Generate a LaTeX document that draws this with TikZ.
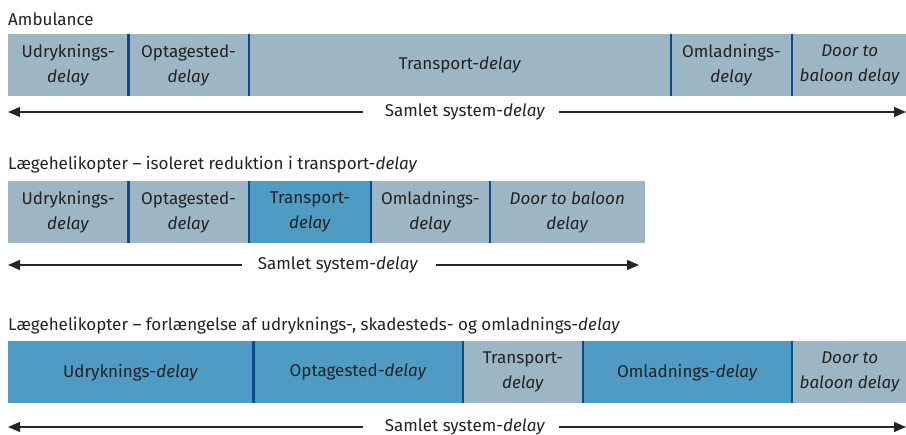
\documentclass[tikz,border=0pt]{standalone}
\usepackage{fontspec}
\setmainfont{Fira Sans}[ItalicFont=Fira Sans Italic]
\usetikzlibrary{arrows.meta}
\definecolor{phase}{HTML}{9CB6C3}
\definecolor{phasehi}{HTML}{4F9BC4}
\definecolor{divider}{HTML}{0D4A8C}
\definecolor{ink}{HTML}{222222}
\tikzset{
  seg/.style={fill=phase, draw=none, inner sep=0pt, anchor=north west, minimum height=62pt,
              text=ink, align=center, font=\fontsize{17}{25}\selectfont},
  seghi/.style={seg, fill=phasehi},
  rowtitle/.style={anchor=west, inner sep=0pt, text=ink, font=\fontsize{17}{20}\selectfont},
  total/.style={inner sep=0pt, text=ink, font=\fontsize{17}{20}\selectfont},
  sep/.style={draw=divider, line width=2.2pt},
  span/.style={line width=1.1pt, draw=black!85, -{Triangle[length=12pt,width=10pt]}},
}
\begin{document}
\begin{tikzpicture}[x=1pt,y=-1pt]
\useasboundingbox (0,0) rectangle (906,435);

% --- Ambulance ---
\node[rowtitle] (t1) at (8,19) {Ambulance};
\node[seg, minimum width=120pt] (a1) at (8,34) {Udryknings-\\\textit{delay}};
\node[seg, minimum width=120pt] (a2) at (a1.north east) {Optagested-\\\textit{delay}};
\node[seg, minimum width=422pt] (a3) at (a2.north east) {Transport-\textit{delay}};
\node[seg, minimum width=120pt] (a4) at (a3.north east) {Omladnings-\\\textit{delay}};
\node[seg, minimum width=116pt] (a5) at (a4.north east) {\textit{Door to}\\\textit{baloon delay}};
\foreach \s in {a1,a2,a3,a4} \draw[sep] (\s.north east) -- (\s.south east);
\node[total] (s1) at (465,112) {Samlet system-\textit{delay}};
\coordinate (l1) at (8,112);
\coordinate (r1) at (906,112);
\draw[span] ([xshift=-22pt]s1.west) -- (l1);
\draw[span] ([xshift=14pt]s1.east) -- (r1);

% --- Helicopter, transport only ---
\node[rowtitle] (t2) at (8,165) {Lægehelikopter – isoleret reduktion i transport-\textit{delay}};
\node[seg, minimum width=120pt] (b1) at (8,181) {Udryknings-\\\textit{delay}};
\node[seg, minimum width=120pt] (b2) at (b1.north east) {Optagested-\\\textit{delay}};
\node[seghi, minimum width=122pt] (b3) at (b2.north east) {Transport-\\\textit{delay}};
\node[seg, minimum width=118pt] (b4) at (b3.north east) {Omladnings-\\\textit{delay}};
\node[seg, minimum width=155pt] (b5) at (b4.north east) {\textit{Door to baloon}\\\textit{delay}};
\foreach \s in {b1,b2,b3,b4} \draw[sep] (\s.north east) -- (\s.south east);
\node[total] (s2) at (338,265) {Samlet system-\textit{delay}};
\coordinate (l2) at (8,265);
\coordinate (r2) at (639,265);
\draw[span] ([xshift=-16pt]s2.west) -- (l2);
\draw[span] ([xshift=18pt]s2.east) -- (r2);

% --- Helicopter, longer phases ---
\node[rowtitle] (t3) at (8,326) {Lægehelikopter – forlængelse af udryknings-, skadesteds- og omladnings-\textit{delay}};
\node[seghi, minimum width=245pt] (c1) at (8,341) {Udryknings-\textit{delay}};
\node[seghi, minimum width=209pt] (c2) at (c1.north east) {Optagested-\textit{delay}};
\node[seg, minimum width=120pt] (c3) at (c2.north east) {Transport-\\\textit{delay}};
\node[seghi, minimum width=208pt] (c4) at (c3.north east) {Omladnings-\textit{delay}};
\node[seg, minimum width=116pt] (c5) at (c4.north east) {\textit{Door to}\\\textit{baloon delay}};
\foreach \s in {c1,c2,c3,c4} \draw[sep] (\s.north east) -- (\s.south east);
\node[total] (s3) at (465,427) {Samlet system-\textit{delay}};
\coordinate (l3) at (8,427);
\coordinate (r3) at (906,427);
\draw[span] ([xshift=-22pt]s3.west) -- (l3);
\draw[span] ([xshift=14pt]s3.east) -- (r3);
\end{tikzpicture}
\end{document}
